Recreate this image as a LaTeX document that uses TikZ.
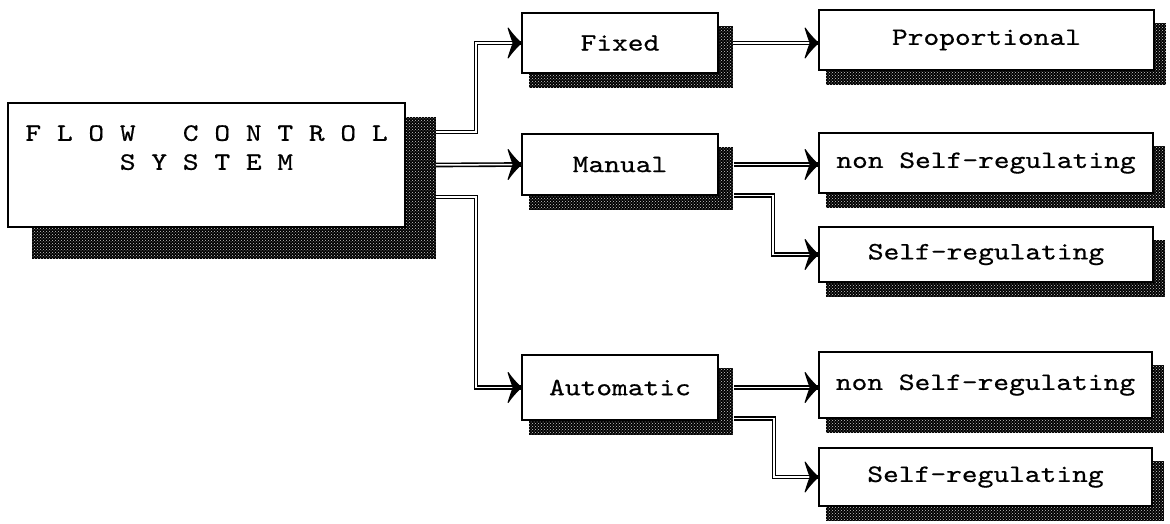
\documentclass[tikz,border=0pt]{standalone}
\usepackage{fontspec}
\newfontfamily\twfont{lmmono10-regular.otf}[FakeStretch=1.2,FakeBold=0.6]
\usetikzlibrary{backgrounds,patterns}
\newcommand{\tipat}[1]{\fill[tipfill,shift={(#1)}] (0,0) .. controls (-5,-5) and (-9,-9) .. (-13,-15)
  .. controls (-11,-8) and (-9,-3) .. (-8,0) .. controls (-9,3) and (-11,8) .. (-13,15)
  .. controls (-9,9) and (-5,5) .. (0,0) -- cycle;}
\begin{document}
\begin{tikzpicture}[x=1pt,y=-1pt,
  blk/.style={draw=black, line width=1.8pt, fill=white, inner sep=0pt,
    font=\fontsize{25}{29}\selectfont\twfont},
  shd/.style={fill=black, postaction={pattern=crosshatch dots, pattern color=white!80!black}},
  conn/.style={draw=black, line width=1.6pt, double=white, double distance=1.5pt},
  tipfill/.style={fill=black, draw=black, line width=1pt, line join=round}
]
\useasboundingbox (0,0) rectangle (1170,524);
% boxes
\node[blk, minimum width=397, minimum height=124, align=center] (fcs) at (206.5,165)
  {F~L~O~W~~~C~O~N~T~R~O~L\\S~Y~S~T~E~M\\[6pt]\mbox{}};
\node[blk, minimum width=196, minimum height=60] (fixed) at (620,43) {Fixed};
\node[blk, minimum width=196, minimum height=61] (manual) at (620,164.5) {Manual};
\node[blk, minimum width=196, minimum height=65] (auto) at (620,387.5) {Automatic};
\node[blk, minimum width=335, minimum height=60] (prop) at (986.5,40) {Proportional};
\node[blk, minimum width=334, minimum height=60] (mns) at (986,163) {non Self-regulating};
\node[blk, minimum width=334, minimum height=55] (ms) at (986,254.5) {Self-regulating};
\node[blk, minimum width=333, minimum height=66] (ans) at (985.5,385) {non Self-regulating};
\node[blk, minimum width=333, minimum height=58] (as) at (985.5,477) {Self-regulating};
% shadows
\begin{pgfonlayer}{background}
\fill[shd] ([shift={(25,15)}]fcs.north west) rectangle ([shift={(30,31)}]fcs.south east);
\foreach \n in {fixed,manual,auto}
  \fill[shd] ([shift={(8,14)}]\n.north west) rectangle ([shift={(14,14)}]\n.south east);
\foreach \n in {prop,mns,ms,ans,as}
  \fill[shd] ([shift={(8,14)}]\n.north west) rectangle ([shift={(11,14)}]\n.south east);
\end{pgfonlayer}
% connector end points
\coordinate (e1) at (prop.west |- fixed.east);
\coordinate (e2) at (mns.west |- manual.east);
\coordinate (e3) at (ans.west |- auto.east);
% connectors
\draw[conn] ([shift={(30,-33)}]fcs.east) -- ++(40,0) |- (fixed.west);
\draw[conn] ([xshift=30pt]fcs.east) -- (manual.west);
\draw[conn] ([shift={(30,32)}]fcs.east) -- ++(40,0) |- (auto.west);
\draw[conn] ([xshift=14pt]fixed.east) -- (e1);
\draw[conn] ([xshift=15pt]manual.east) -- (e2);
\draw[conn] ([shift={(15,31)}]manual.east) -- ++(39,0) |- (ms.west);
\draw[conn] ([xshift=15pt]auto.east) -- (e3);
\draw[conn] ([shift={(15,31)}]auto.east) -- ++(40,0) |- (as.west);
% arrow tips
\tipat{fixed.west}
\tipat{manual.west}
\tipat{auto.west}
\tipat{e1}
\tipat{e2}
\tipat{ms.west}
\tipat{e3}
\tipat{as.west}
\end{tikzpicture}
\end{document}
